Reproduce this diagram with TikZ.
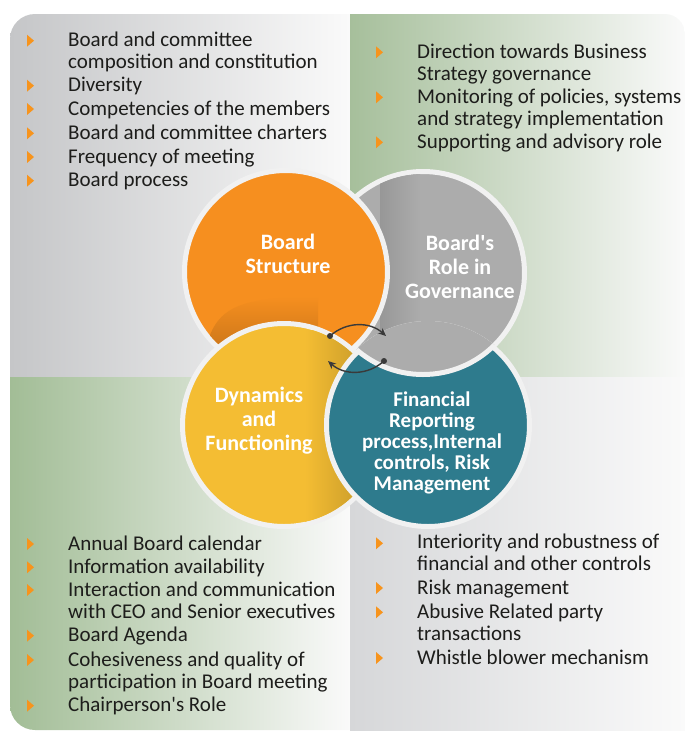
\documentclass[tikz,border=0pt]{standalone}
\usepackage{fontspec}
\setmainfont{Carlito}
\usetikzlibrary{arrows.meta}

\definecolor{tlgray}{HTML}{C5C6C8}
\definecolor{trgreen}{HTML}{A6BF9B}
\definecolor{blgreen}{HTML}{A2BD96}
\definecolor{brgray}{HTML}{D6D7D9}
\definecolor{fadewhite}{HTML}{FAFAFA}
\definecolor{structorange}{HTML}{F68F1F}
\definecolor{rolegray}{HTML}{ACACAC}
\definecolor{dynyellow}{HTML}{F4BD33}
\definecolor{finteal}{HTML}{2E7B8D}
\definecolor{ringwhite}{HTML}{F1F1F1}
\definecolor{bulletorange}{HTML}{F7941D}
\definecolor{swapgray}{HTML}{3A3A3A}
\definecolor{listtext}{HTML}{1D1D1B}

% orange bullet, #2 is the baseline of the first line
\newcommand{\bull}[2]{\fill[bulletorange] (#1,#2-12) -- ++(7,6) -- ++(-7,6) -- cycle;}

\begin{document}
\begin{tikzpicture}[x=1pt,y=-1pt,
	item/.style={anchor=base west, align=left, inner sep=0pt, text=listtext,
		font=\fontsize{21}{22}\selectfont},
	circ/.style={circle, minimum size=203pt, inner sep=0pt, draw=ringwhite, line width=5pt},
	title/.style={anchor=base, align=center, inner sep=0pt, text=white,
		font=\fontsize{22}{24}\selectfont\bfseries},
	dot/.style={circle, fill=swapgray, inner sep=0pt, minimum size=6pt},
	swap/.style={draw=swapgray, line width=1.4pt, -{Stealth[length=8pt,width=7pt]}}]
		\useasboundingbox (0,0) rectangle (685,732);
		
		% quadrants
		\shade[left color=tlgray, right color=fadewhite] (10,377) -- (10,39) arc[start angle=180, end angle=270, radius=25] -- (350,14) -- (350,377) -- cycle;
		\shade[left color=trgreen, right color=fadewhite] (350,14) -- (665,14) arc[start angle=270, end angle=360, radius=20] -- (685,377) -- (350,377) -- cycle;
		\shade[left color=blgreen, right color=fadewhite] (10,377) -- (10,705) arc[start angle=180, end angle=90, radius=25] -- (350,730) -- (350,377) -- cycle;
		\shade[left color=brgray, right color=fadewhite] (350,377) rectangle (685,730);
		
		% circles
		\node[circ, fill=rolegray] (role) at (423,273) {};
		\begin{scope}
			\clip (423,273) circle (99);
			\shade[left color=rolegray!88!black, right color=rolegray] (380,170) rectangle (420,380);
		\end{scope}
		\node[circ, fill=structorange] (struct) at (286,272) {};
		\begin{scope}
			\clip (286,272) circle (99);
			\shade[top color=structorange, bottom color=structorange!82!black] (205,352) .. controls (215,305) and (240,298) .. (318,296) -- (318,352) -- cycle;
		\end{scope}
		\node[circ, fill=dynyellow] (dyn) at (284,425) {};
		\begin{scope}
			\clip (284,425) circle (99);
			\shade[left color=dynyellow, right color=dynyellow!84!black] (305,330) rectangle (358,525);
		\end{scope}
		\node[circ, fill=finteal] (fin) at (428,425) {};
		\begin{scope}
			\clip (428,425) circle (104);
			\fill[rolegray, draw=ringwhite, line width=5pt] (423,273) circle (101.5);
		\end{scope}
		
		% circle titles (anchored on the last line)
		\node[title] (structT) at (288,273.3) {Board\\Structure};
		\node[title] (roleT) at (460,298.3) {Board\textquotesingle s\\Role in\\Governance};
		\node[title] (dynT) at (259,450) {Dynamics\\and\\Functioning};
		\node[title, font=\fontsize{21}{21}\selectfont\bfseries] (finT) at (432,490) {Financial\\Reporting\\process,Internal\\controls, Risk\\Management};
		
		% swap arrows
		\node[dot] (d1) at (330,336) {};
		\coordinate (e1) at (386,336);
		\node[dot] (d2) at (384,361) {};
		\coordinate (e2) at (328,361);
		\draw[swap] (d1.center) to[bend left=42] (e1);
		\draw[swap] (d2.center) to[bend left=42] (e2);
		
		% top left
		\node[item] (tl1) at (68,68.5) {Board and committee\\composition and constitution};
		\node[item] (tl2) at (68,91.7) {Diversity};
		\node[item] (tl3) at (68,115) {Competencies of the members};
		\node[item] (tl4) at (68,139.3) {Board and committee charters};
		\node[item] (tl5) at (68,163) {Frequency of meeting};
		\node[item] (tl6) at (68,186.7) {Board process};
		\bull{27}{46.7} \bull{27}{91.7} \bull{27}{115} \bull{27}{139.3} \bull{27}{163} \bull{27}{186.7}
		
		% top right
		\node[item] (tr1) at (417,80) {Direction towards Business\\Strategy governance};
		\node[item] (tr2) at (417,125) {Monitoring of policies, systems\\and strategy implementation};
		\node[item] (tr3) at (417,148.3) {Supporting and advisory role};
		\bull{376}{58.3} \bull{376}{103.3} \bull{376}{148.3}
		
		% bottom left
		\node[item] (bl1) at (68,550) {Annual Board calendar};
		\node[item] (bl2) at (68,573.3) {Information availability};
		\node[item] (bl3) at (68,618.3) {Interaction and communication\\with CEO and Senior executives};
		\node[item] (bl4) at (68,641.7) {Board Agenda};
		\node[item] (bl5) at (68,688.3) {Cohesiveness and quality of\\participation in Board meeting};
		\node[item] (bl6) at (68,711.7) {Chairperson\textquotesingle s Role};
		\bull{27}{550} \bull{27}{573.3} \bull{27}{596} \bull{27}{641.7} \bull{27}{666} \bull{27}{711.7}
		
		% bottom right
		\node[item] (br1) at (417,570.7) {Interiority and robustness of\\financial and other controls};
		\node[item] (br2) at (417,594) {Risk management};
		\node[item] (br3) at (417,640.7) {Abusive Related party\\transactions};
		\node[item] (br4) at (417,664) {Whistle blower mechanism};
		\bull{376}{549.3} \bull{376}{594} \bull{376}{618.3} \bull{376}{664}
\end{tikzpicture}
\end{document}
